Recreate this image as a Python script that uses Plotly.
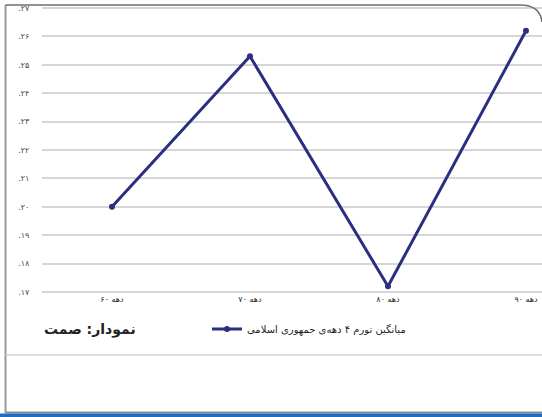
import plotly.graph_objects as go

categories = ["دهه ۶۰", "دهه ۷۰", "دهه ۸۰", "دهه ۹۰"]
inflation = [0.200, 0.253, 0.172, 0.262]
tick_values = [0.17, 0.18, 0.19, 0.20, 0.21, 0.22, 0.23, 0.24, 0.25, 0.26, 0.27]
tick_labels = [".۱۷", ".۱۸", ".۱۹", ".۲۰", ".۲۱", ".۲۲", ".۲۳", ".۲۴", ".۲۵", ".۲۶", ".۲۷"]
series_name = "میانگین تورم ۴ دهه‌ی جمهوری اسلامی"
title_text = "نمودار: صمت"

W, H = 542, 417
FONT = "DejaVu Sans"


def px(x):
    return x / W


def py(y):
    return 1 - y / H


fig = go.Figure()
fig.add_trace(go.Scatter(
    x=list(range(len(categories))), y=inflation, mode="lines+markers",
    name=series_name,
    line=dict(color="#2b2f80", width=3),
    marker=dict(color="#2b2f80", size=6),
))

fig.update_layout(
    width=W, height=H,
    margin=dict(l=0, r=0, t=0, b=0, autoexpand=False),
    paper_bgcolor="white", plot_bgcolor="white",
    showlegend=True,
    legend=dict(
        orientation="h", xref="paper", yref="paper",
        x=px(207), y=py(329), xanchor="left", yanchor="middle",
        font=dict(family=FONT, size=10, color="#222"),
        bgcolor="rgba(0,0,0,0)", itemwidth=30,
    ),
    xaxis=dict(
        domain=[px(42), 1],
        range=[-0.507, 3.116], tickmode="array",
        tickvals=list(range(len(categories))), ticktext=categories,
        showgrid=False, zeroline=False, showline=False,
        tickfont=dict(family=FONT, size=8, color="#222"),
        ticks="", fixedrange=True, automargin=False,
    ),
    yaxis=dict(
        domain=[py(293.4), py(6.6)],
        range=[0.1695, 0.2705], tickmode="array",
        tickvals=tick_values, ticktext=tick_labels,
        showgrid=True, gridcolor="#d6d6d6", gridwidth=1.5,
        zeroline=False, showline=False,
        tickfont=dict(family=FONT, size=8, color="#444"),
        ticks="outside", ticklen=10, tickcolor="rgba(0,0,0,0)",
        automargin=False, fixedrange=True,
    ),
    annotations=[dict(
        text="<b>" + title_text + "</b>", xref="paper", yref="paper",
        x=px(90), y=py(329), xanchor="center", yanchor="middle",
        showarrow=False, font=dict(family=FONT, size=14, color="#222"),
    )],
    shapes=[
        # left border
        dict(type="line", xref="paper", yref="paper", x0=px(5.5), x1=px(5.5),
             y0=py(413), y1=py(5), line=dict(color="#9a9a9a", width=2)),
        # top border with rounded right corner
        dict(type="path", xref="paper", yref="paper",
             path=f"M {px(5.5)},{py(5)} L {px(520)},{py(5)} Q {px(540)},{py(5)} {px(542)},{py(22)}",
             line=dict(color="#707070", width=1.5)),
        # separator line under legend
        dict(type="line", xref="paper", yref="paper", x0=px(5.5), x1=1,
             y0=py(355), y1=py(355), line=dict(color="#d0d0d0", width=1.5)),
        # bottom gray line
        dict(type="line", xref="paper", yref="paper", x0=px(5.5), x1=1,
             y0=py(412.5), y1=py(412.5), line=dict(color="#8a8a8a", width=2)),
        # bottom blue bar
        dict(type="rect", xref="paper", yref="paper", x0=0, x1=1,
             y0=0, y1=3.5 / H, fillcolor="#1a6fc0", line=dict(width=0)),
    ],
)

fig.write_html(
    "out.html",
    config={"displayModeBar": False},
    post_script="document.body.style.margin='0';document.body.style.overflow='hidden';",
)
